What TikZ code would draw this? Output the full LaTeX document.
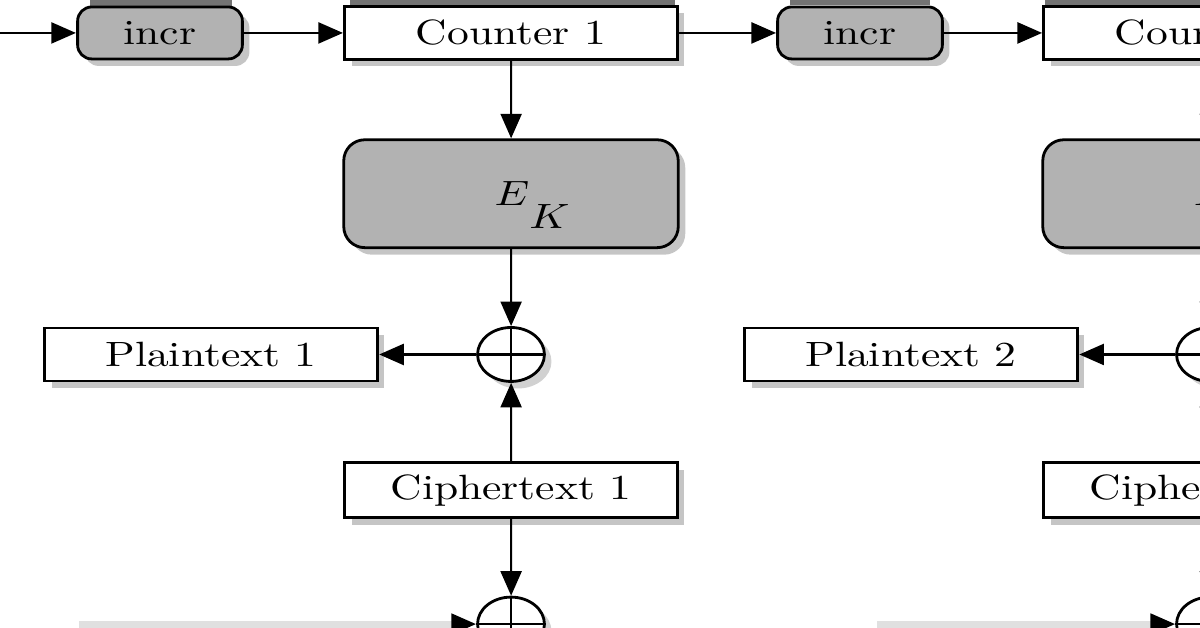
\documentclass[tikz,border=0pt]{standalone}
\usepackage{tikz}
\usetikzlibrary{arrows.meta,shadows,calc}

\tikzset{
  box/.style={draw, thick, fill=white, minimum width=2.686cm, minimum height=0.53cm,
    drop shadow={shadow xshift=2pt, shadow yshift=-2pt, fill=black!45, opacity=0.5}},
  incrbox/.style={draw, thick, fill=black!30, rounded corners=4pt, minimum width=1.33cm, minimum height=0.52cm,
    drop shadow={shadow xshift=2pt, shadow yshift=-2pt, fill=black!45, opacity=0.5}},
  cipherbox/.style={draw, thick, fill=black!30, rounded corners=6pt, minimum width=2.70cm, minimum height=1.08cm,
    drop shadow={shadow xshift=2pt, shadow yshift=-2pt, fill=black!45, opacity=0.5}},
  xor/.style={draw, thick, circle, fill=white, minimum size=0.54cm, inner sep=0pt,
    drop shadow={shadow xshift=2pt, shadow yshift=-2pt, fill=black!45, opacity=0.4},
    path picture={\draw[thick] (path picture bounding box.north) -- (path picture bounding box.south)
      (path picture bounding box.west) -- (path picture bounding box.east);}},
  flow/.style={semithick, -{Triangle[length=7pt, width=6pt]}},
}

\begin{document}
\begin{tikzpicture}[x=0.008065cm, y=-0.01cm, xscale=1.24, every node/.append style={transform shape}]

        \useasboundingbox (0,0) rectangle (1200,628);
        \clip (0,0) rectangle (1200,628);

        % row above, cut off
        \fill[black!55] (90,-30) rectangle (232,6);
        \fill[black!55] (350,-30) rectangle (675,7);
        \fill[black!55] (790,-30) rectangle (930,5);
        \fill[black!55] (1045,-30) rectangle (1250,7);

        % counters
        \coordinate (start) at (0,33);
        \node[incrbox] (incr1) at (160,33) {incr};
        \node[box] (ctr1) at (511,33) {Counter 1};
        \node[incrbox] (incr2) at (860,33) {incr};
        \node[box] (ctr2) at (1210,33) {Counter 2};

        % block 1
        \node[cipherbox] (ek1) at (511,194) {};
        \node (ek1label) at ([shift={(21,11)}]ek1.center) {$E\lower0.65em\hbox{$K$}$};
        \node[xor] (xor1) at (511,355) {};
        \node[box] (pt1) at (211,355) {Plaintext 1};
        \node[box] (ct1) at (511,491) {Ciphertext 1};
        \node[xor] (xor3) at (511,625) {};
        \node[fill=black!12, minimum width=3.08cm, minimum height=0.8cm, inner sep=0pt, anchor=north west] (prev1) at (78,621) {};

        % block 2
        \node[cipherbox] (ek2) at (1210,194) {};
        \node (ek2label) at ([shift={(21,11)}]ek2.center) {$E\lower0.65em\hbox{$K$}$};
        \node[xor] (xor2) at (1210,355) {};
        \node[box] (pt2) at (911,355) {Plaintext 2};
        \node[box] (ct2) at (1210,491) {Ciphertext 2};
        \node[xor] (xor4) at (1210,625) {};
        \node[fill=black!12, minimum width=2.22cm, minimum height=0.8cm, inner sep=0pt, anchor=north west] (prev2) at (876,621) {};

        \draw[flow] (start) -- (incr1);
        \draw[flow] (incr1) -- (ctr1);
        \draw[flow] (ctr1) -- (incr2);
        \draw[flow] (incr2) -- (ctr2);

        \draw[flow] (ctr1) -- (ek1);
        \draw[flow] (ek1) -- (xor1);
        \draw[flow] (xor1) -- (pt1);
        \draw[flow] (ct1) -- (xor1);
        \draw[flow] (ct1) -- (xor3);
        \draw[flow] (prev1.east |- xor3.west) -- (xor3);

        \draw[flow] (ctr2) -- (ek2);
        \draw[flow] (ek2) -- (xor2);
        \draw[flow] (xor2) -- (pt2);
        \draw[flow] (ct2) -- (xor2);
        \draw[flow] (ct2) -- (xor4);
        \draw[flow] (prev2.east |- xor4.west) -- (xor4);

    \end{tikzpicture}
\end{document}
